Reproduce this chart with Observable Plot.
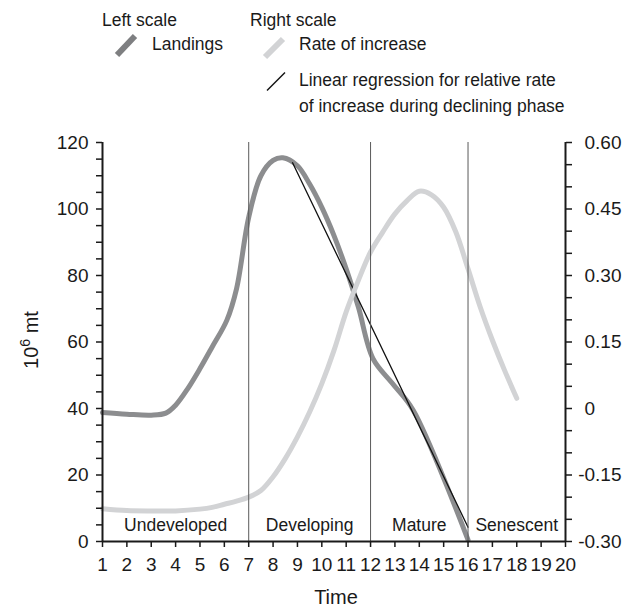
<!DOCTYPE html>
<html>
<head>
<meta charset="utf-8">
<script src="https://cdn.jsdelivr.net/npm/d3@7"></script>
<script src="https://cdn.jsdelivr.net/npm/@observablehq/plot@0.6"></script>
<style>
  body { margin: 0; background: #fff; }
  #wrap { position: relative; width: 632px; height: 610px; overflow: hidden; }
  #chart { position: absolute; left: 0; top: 130px; }
  #overlay { position: absolute; left: 0; top: 0; pointer-events: none; }
  text { font-family: "Liberation Sans", Arial, Helvetica, sans-serif; }
</style>
</head>
<body>
<div id="wrap">
  <div id="chart"></div>
  <svg id="overlay" width="632" height="610"></svg>
</div>
<script>
// ---- Data ----
// Landings (left scale, 10^6 mt)
const landingsTime = [1, 2, 3, 3.6, 4.0, 4.5, 5.0, 5.5, 6.1, 6.5, 7.0, 7.5, 8.0, 8.4, 9.0, 9.5, 10.0, 10.5, 11.0, 11.5, 12.1, 12.9, 13.75, 16];
const landingsValue = [38.8, 38.3, 38.0, 38.6, 41, 46, 52, 58.5, 66.5, 76, 97.5, 110, 114.6, 115.4, 113, 107.5, 100.5, 92, 82, 70.5, 55, 47.5, 39.5, 0.5];
// Rate of increase (right scale)
const rateTime = [1, 2, 3, 4, 5, 5.5, 6, 6.5, 7, 7.5, 8, 8.5, 9, 9.5, 10, 10.5, 11, 11.5, 12, 12.5, 13, 13.5, 14, 14.5, 15, 15.5, 16, 16.5, 17, 17.5, 18];
const rateValue = [-0.226, -0.230, -0.231, -0.231, -0.227, -0.223, -0.216, -0.209, -0.200, -0.185, -0.154, -0.113, -0.064, -0.008, 0.056, 0.131, 0.218, 0.289, 0.353, 0.398, 0.439, 0.469, 0.490, 0.482, 0.454, 0.398, 0.315, 0.229, 0.154, 0.086, 0.023];
// Linear regression during declining phase (left scale)
const regressionTime = [8.8, 16];
const regressionValue = [113.9, 4.3];
// Phases
const phaseBounds = [7, 12, 16];
const phaseNames = ["Undeveloped", "Developing", "Mature", "Senescent"];
const phaseCenters = [4, 9.5, 14, 18];
// Ticks
const xTicks = [1, 2, 3, 4, 5, 6, 7, 8, 9, 10, 11, 12, 13, 14, 15, 16, 17, 18, 19, 20];
const leftTicks = [0, 20, 40, 60, 80, 100, 120];
const leftMinorTicks = [5, 10, 15, 25, 30, 35, 45, 50, 55, 65, 70, 75, 85, 90, 95, 105, 110, 115];
const rightTicks = [-0.30, -0.15, 0, 0.15, 0.30, 0.45, 0.60];
const rightMinorTicks = [-0.25, -0.20, -0.10, -0.05, 0.05, 0.10, 0.20, 0.25, 0.35, 0.40, 0.50, 0.55];

// ---- Build ----
const rightToLeft = d3.scaleLinear([-0.30, 0.60], [0, 120]);
const landings = landingsTime.map((t, i) => ({t, v: landingsValue[i]}));
const rate = rateTime.map((t, i) => ({t, v: rightToLeft(rateValue[i])}));
const regression = regressionTime.map((t, i) => ({t, v: regressionValue[i]}));
const phases = phaseNames.map((name, i) => ({name, x: phaseCenters[i]}));

const FONT = "Liberation Sans, Arial, Helvetica, sans-serif";
const DARK = "#8c8d8f", LIGHT = "#d2d3d5", INK = "#1a1a1a";
const fmtRight = d => d === 0 ? "0" : d3.format(".2f")(Math.abs(d));

const chart = Plot.plot({
  width: 632,
  height: 480,
  marginLeft: 102,
  marginRight: 67,
  marginTop: 12,
  marginBottom: 69,
  x: {domain: [1, 20]},
  y: {domain: [0, 120]},
  style: {fontFamily: FONT, fontSize: "19px", color: INK, background: "transparent"},
  marks: [
    // curves
    Plot.line(landings, {x: "t", y: "v", stroke: DARK, strokeWidth: 5, curve: "catmull-rom", strokeLinejoin: "round"}),
    Plot.line(regression, {x: "t", y: "v", stroke: "#111", strokeWidth: 1.3}),
    Plot.line(rate, {x: "t", y: "v", stroke: LIGHT, strokeWidth: 5, curve: "catmull-rom", strokeLinejoin: "round"}),
    // phase boundaries
    Plot.ruleX(phaseBounds, {y1: 0, y2: 120, stroke: "#5a5a5a", strokeWidth: 1}),
    // phase labels
    Plot.text(phases, {x: "x", y: () => 0, text: "name", dy: -11, lineAnchor: "bottom", fontSize: 17.5, fill: INK}),
    // axis lines
    Plot.ruleX([1], {y1: 0, y2: 120, stroke: INK, strokeWidth: 2}),
    Plot.ruleX([20], {y1: 0, y2: 120, stroke: INK, strokeWidth: 2}),
    Plot.ruleY([0], {x1: 1, x2: 20, stroke: INK, strokeWidth: 2}),
    // left axis
    Plot.axisY({anchor: "left", ticks: leftMinorTicks, tickSize: 6, tickFormat: () => "", label: null, strokeWidth: 1.5, stroke: INK}),
    Plot.axisY({anchor: "left", ticks: leftTicks, tickSize: 6, tickPadding: 8, label: null, strokeWidth: 1.5, stroke: INK, fill: INK}),
    // bottom axis
    Plot.axisX({anchor: "bottom", ticks: xTicks, tickSize: 6, tickPadding: 10, label: null, strokeWidth: 1.5, stroke: INK, fill: INK}),
    // right axis
    Plot.axisY({anchor: "right", ticks: rightMinorTicks.map(rightToLeft), tickSize: 6, tickFormat: () => "", label: null, strokeWidth: 1.5, stroke: INK}),
    Plot.axisY({anchor: "right", ticks: rightTicks.map(rightToLeft), tickSize: 6, tickFormat: () => "", label: null, strokeWidth: 1.5, stroke: INK}),
    Plot.text(rightTicks, {frameAnchor: "right", y: d => rightToLeft(d), text: fmtRight, textAnchor: "start", dx: 19, fontSize: 19, fill: INK}),
    Plot.text(rightTicks.filter(d => d < 0), {frameAnchor: "right", y: d => rightToLeft(d), text: () => "-", textAnchor: "end", dx: 19, fontSize: 19, fill: INK})
  ]
});
document.getElementById("chart").appendChild(chart);

// ---- Legend and axis titles ----
const ov = d3.select("#overlay");
const legendText = [
  {s: "Left scale", x: 102, y: 26},
  {s: "Right scale", x: 250, y: 26},
  {s: "Landings", x: 152, y: 49.5},
  {s: "Rate of increase", x: 299, y: 49.5},
  {s: "Linear regression for relative rate", x: 299, y: 86},
  {s: "of increase during declining phase", x: 299, y: 111.5}
];
ov.selectAll("text.lg").data(legendText).join("text")
  .attr("class", "lg").attr("x", d => d.x).attr("y", d => d.y)
  .attr("font-size", 17.5).attr("fill", INK).text(d => d.s);
ov.append("line").attr("x1", 117).attr("y1", 55).attr("x2", 135).attr("y2", 36)
  .attr("stroke", "#7e7f81").attr("stroke-width", 6);
ov.append("line").attr("x1", 265).attr("y1", 57).attr("x2", 283).attr("y2", 39)
  .attr("stroke", LIGHT).attr("stroke-width", 6);
ov.append("line").attr("x1", 267).attr("y1", 90.5).attr("x2", 285).attr("y2", 72.5)
  .attr("stroke", "#111").attr("stroke-width", 1.5);

ov.append("text").attr("x", 336).attr("y", 604).attr("text-anchor", "middle")
  .attr("font-size", 20).attr("fill", INK).text("Time");
const yl = ov.append("text").attr("transform", "translate(38,340) rotate(-90)")
  .attr("text-anchor", "middle").attr("font-size", 20).attr("fill", INK);
yl.append("tspan").text("10");
yl.append("tspan").attr("font-size", 14).attr("dy", -8).text("6");
yl.append("tspan").attr("dy", 8).text(" mt");
</script>
</body>
</html>
